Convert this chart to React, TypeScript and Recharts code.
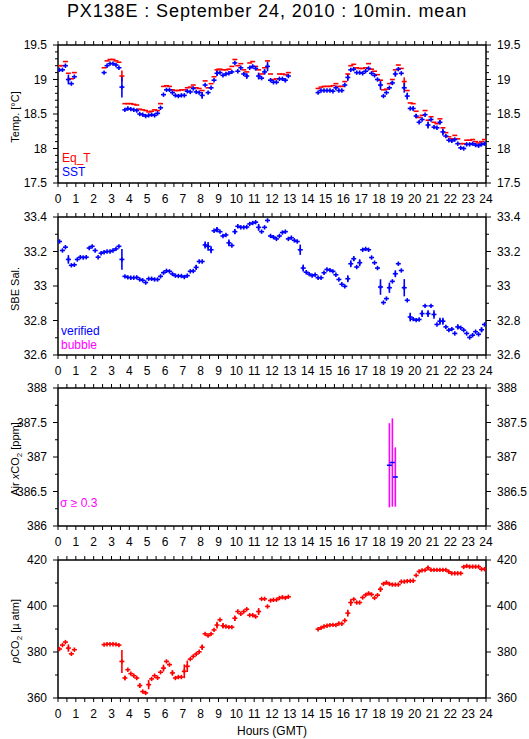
import React from 'react';
import { ScatterChart, Scatter, XAxis, YAxis, ErrorBar } from 'recharts';

const FONT = '"Liberation Sans", Arial, Helvetica, sans-serif';
const RED = '#ff0000';
const BLUE = '#0000ff';
const MAG = '#ff00ff';
const N = null;

// ---- x axis (hours GMT) ----
const hourLabels = [0, 1, 2, 3, 4, 5, 6, 7, 8, 9, 10, 11, 12, 13, 14, 15, 16, 17, 18, 19, 20, 21, 22, 23, 24];
const hourTicks = hourLabels.flatMap((h) => (h < 24 ? [h, h + 0.5] : [h]));

// ---- y ticks ----
const tempTicks = [17.5, 17.6, 17.7, 17.8, 17.9, 18, 18.1, 18.2, 18.3, 18.4, 18.5, 18.6, 18.7, 18.8, 18.9, 19, 19.1, 19.2, 19.3, 19.4, 19.5];
const tempLabels = [17.5, 18, 18.5, 19, 19.5];
const salTicks = [32.6, 32.7, 32.8, 32.9, 33, 33.1, 33.2, 33.3, 33.4];
const salLabels = [32.6, 32.8, 33, 33.2, 33.4];
const airTicks = [386, 386.25, 386.5, 386.75, 387, 387.25, 387.5, 387.75, 388];
const airLabels = [386, 386.5, 387, 387.5, 388];
const pco2Ticks = [360, 370, 380, 390, 400, 410, 420];
const pco2Labels = [360, 380, 400, 420];

// ---- 10-min mean values, one entry per 10-min slot (144 per day) ----
const eqT: (number | null)[] = [
  19.2, 19.2, 19.26, 19.09, 19.01, 19.1, N, N, N, N, N, N,
  N, N, N, 19.17, 19.27, 19.29, 19.29, 19.27, 19.25, 19.05, 18.65, 18.65,
  18.65, 18.64, 18.63, 18.57, 18.56, 18.55, 18.53, 18.54, 18.56, 18.55, 18.65, 18.9,
  18.91, 18.9, 18.85, 18.84, 18.84, 18.85, 18.85, 18.88, 18.89, 18.92, 18.88, 18.87,
  18.84, 18.98, 18.88, 18.94, 19.04, 19.14, 19.15, 19.14, 19.14, 19.15, 19.19, 19.29,
  19.2, 19.23, 19.14, 19.11, 19.24, 19.26, 19.19, 19.14, 19.08, 19.17, 19.27, 19.08,
  19.0, 19.01, 19.08, 19.08, 19.07, 19.1, N, N, N, N, N, N,
  N, N, N, 18.87, 18.89, 18.9, 18.9, 18.9, 18.91, 18.94, 18.9, 18.9,
  18.97, 19.08, 19.2, 19.22, 19.17, 19.16, 19.16, 19.17, 19.23, 19.15, 19.12, 19.07,
  18.99, 18.85, 18.86, 18.94, 19.0, 19.14, 19.21, 19.16, 18.97, 18.84, 18.66, 18.65,
  18.54, 18.45, 18.48, 18.55, 18.41, 18.46, 18.38, 18.36, 18.43, 18.3, 18.23, 18.17,
  18.14, 18.19, 18.14, 18.07, 18.07, 18.12, 18.12, 18.13, 18.1, 18.08, 18.1, 18.13,
];
const eqTSd: Record<number, number> = { 21: 0.08, 53: 0.02, 116: 0.06 };

const sst: (number | null)[] = [
  19.14, 19.14, 19.2, 19.0, 18.94, 19.04, N, N, N, N, N, N,
  N, N, N, 19.1, 19.2, 19.23, 19.23, 19.21, 19.17, 18.89, 18.56, 18.58,
  18.57, 18.56, 18.55, 18.5, 18.49, 18.47, 18.48, 18.49, 18.48, 18.51, 18.59, 18.78,
  18.85, 18.85, 18.81, 18.77, 18.76, 18.77, 18.77, 18.83, 18.82, 18.87, 18.82, 18.81,
  18.77, 18.92, 18.81, 18.88, 18.99, 19.09, 19.1, 19.06, 19.08, 19.09, 19.11, 19.24,
  19.12, 19.17, 19.08, 19.05, 19.17, 19.19, 19.16, 19.05, 19.02, 19.11, 19.19, 18.99,
  18.96, 18.96, 19.01, 19.01, 18.99, 19.05, N, N, N, N, N, N,
  N, N, N, 18.81, 18.84, 18.84, 18.84, 18.84, 18.83, 18.88, 18.84, 18.84,
  18.92, 19.03, 19.14, 19.15, 19.1, 19.1, 19.09, 19.12, 19.16, 19.09, 19.06, 19.0,
  18.92, 18.76, 18.81, 18.88, 18.95, 19.08, 19.15, 19.09, 18.88, 18.76, 18.58, 18.58,
  18.47, 18.38, 18.42, 18.49, 18.34, 18.42, 18.31, 18.3, 18.38, 18.24, 18.18, 18.12,
  18.11, 18.13, 18.07, 18.01, 18.0, 18.06, 18.06, 18.07, 18.05, 18.04, 18.06, 18.07,
];
const sstSd: Record<number, number> = {
  3: 0.07, 21: 0.15, 48: 0.05, 53: 0.04, 63: 0.04, 67: 0.05, 69: 0.04, 70: 0.07, 76: 0.03,
  97: 0.05, 108: 0.07, 112: 0.03, 113: 0.04, 116: 0.07, 117: 0.05, 119: 0.03, 120: 0.03,
  124: 0.05, 128: 0.03, 129: 0.05,
};

const salinity: (number | null)[] = [
  33.258, 33.206, 33.225, 33.154, 33.12, 33.123, 33.154, 33.167, 33.165, 33.167, 33.22, 33.23,
  33.206, 33.167, 33.19, 33.196, 33.2, 33.2, 33.206, 33.215, 33.23, 33.154, 33.056, 33.05,
  33.048, 33.048, 33.05, 33.038, 33.033, 33.02, 33.042, 33.042, 33.038, 33.038, 33.056, 33.077,
  33.088, 33.085, 33.07, 33.06, 33.058, 33.058, 33.052, 33.06, 33.085, 33.087, 33.108, 33.142,
  33.142, 33.238, 33.23, 33.21, 33.32, 33.327, 33.315, 33.29, 33.296, 33.25, 33.235, 33.315,
  33.346, 33.34, 33.34, 33.342, 33.36, 33.365, 33.37, 33.34, 33.315, 33.34, 33.38, 33.29,
  33.283, 33.273, 33.29, 33.31, 33.315, 33.273, 33.28, 33.265, 33.258, 33.21, 33.104, 33.08,
  33.069, 33.06, 33.065, 33.048, 33.048, 33.077, 33.096, 33.092, 33.085, 33.065, 33.038, 33.01,
  32.998, 33.042, 33.129, 33.158, 33.11, 33.135, 33.21, 33.215, 33.21, 33.165, 33.135, 33.104,
  32.994, 32.904, 32.927, 32.99, 33.027, 33.071, 33.129, 33.09, 32.99, 32.917, 32.82, 32.808,
  32.802, 32.806, 32.84, 32.885, 32.84, 32.885, 32.835, 32.777, 32.796, 32.796, 32.763, 32.744,
  32.75, 32.725, 32.763, 32.758, 32.744, 32.725, 32.702, 32.715, 32.735, 32.72, 32.746, 32.777,
];
const salSd: Record<number, number> = {
  3: 0.025, 21: 0.06, 46: 0.015, 49: 0.02, 50: 0.025, 51: 0.02, 53: 0.015, 57: 0.02, 59: 0.015,
  67: 0.02, 81: 0.03, 82: 0.02, 97: 0.02, 98: 0.02, 99: 0.015, 101: 0.02, 108: 0.045, 111: 0.03,
  113: 0.02, 116: 0.05, 118: 0.025, 122: 0.02, 124: 0.02, 126: 0.025, 128: 0.02, 129: 0.02,
  134: 0.015, 142: 0.015,
};

const airSlots = [111, 112, 113];
const airXco2 = [386.88, 386.92, 386.71];
const airSigma = [0.61, 0.64, 0.43];

const pco2: (number | null)[] = [
  381.3, 383.0, 384.3, 381.7, 379.2, 381.0, N, N, N, N, N, N,
  N, N, N, 383.2, 383.4, 383.4, 383.4, 383.3, 383.0, 375.9, 368.7, 372.3,
  370.6, 369.7, 368.7, 365.4, 362.8, 362.2, 365.8, 368.3, 369.7, 368.8, 371.2, 373.0,
  375.9, 374.5, 370.9, 368.7, 369.1, 369.1, 371.6, 373.8, 376.9, 378.1, 379.1, 380.1,
  382.1, 387.9, 387.1, 387.9, 389.6, 391.7, 394.0, 391.4, 391.1, 390.8, 390.8, 394.7,
  397.6, 396.6, 397.6, 398.6, 396.0, 396.0, 395.4, 397.6, 403.1, 403.1, 399.8, 402.4,
  402.7, 402.7, 403.5, 403.8, 403.5, 404.0, N, N, N, N, N, N,
  N, N, N, 389.9, 390.5, 391.1, 391.4, 391.7, 391.8, 391.7, 392.4, 392.3,
  393.7, 396.9, 401.5, 402.9, 401.5, 401.5, 403.7, 404.8, 405.5, 405.0, 403.5, 404.7,
  407.3, 409.6, 410.2, 409.6, 409.3, 409.3, 409.3, 410.6, 410.6, 410.8, 410.9, 411.0,
  413.3, 415.0, 415.5, 415.6, 416.6, 415.7, 415.7, 415.7, 415.7, 415.7, 415.7, 414.9,
  414.2, 414.2, 414.2, 414.2, 417.0, 417.4, 417.1, 417.1, 417.1, 417.1, 416.0, 416.0,
];
const pco2Sd: Record<number, number> = {
  3: 1.6, 21: 5, 22: 1, 27: 1, 30: 2, 35: 1.5, 38: 1.2, 42: 3, 43: 2.5, 48: 1.2, 53: 1.5,
  55: 1.2, 59: 1.2, 67: 1.5, 97: 1.5, 98: 1.5, 108: 1.2, 124: 0.8,
};

// ---- helpers ----
type Pt = { x: number; y: number; e: number };
const slotTime = (k: number) => k / 6 + 1 / 12;
function build(values: (number | null)[], sd: Record<number, number> = {}): Pt[] {
  const out: Pt[] = [];
  values.forEach((v, k) => {
    if (v !== null) out.push({ x: slotTime(k), y: v, e: sd[k] ?? 0 });
  });
  return out;
}

const eqTData = build(eqT, eqTSd);
const sstData = build(sst, sstSd);
const salData = build(salinity, salSd);
const airData: Pt[] = airSlots.map((k, i) => ({ x: slotTime(k), y: airXco2[i], e: airSigma[i] }));
const pco2Data = build(pco2, pco2Sd);

const isIn = (v: number, arr: number[]) => arr.some((a) => Math.abs(a - v) < 1e-6);

const markShape = (color: string, cross: boolean) => (props: any) => {
  const { cx, cy } = props;
  if (cx == null || cy == null || isNaN(cx) || isNaN(cy)) return <g />;
  return (
    <g>
      <line x1={cx - 2.5} x2={cx + 2.5} y1={cy} y2={cy} stroke={color} strokeWidth={1.6} />
      {cross && <line x1={cx} x2={cx} y1={cy - 2.2} y2={cy + 2.2} stroke={color} strokeWidth={1.6} />}
    </g>
  );
};

const XTick = (props: any) => {
  const { x, y, payload, side } = props;
  const v = payload.value as number;
  const dir = side === 'top' ? -1 : 1;
  const major = Math.abs(v - Math.round(v)) < 1e-6;
  return (
    <g>
      <line x1={x} x2={x} y1={y} y2={y + dir * 4} stroke="#000" strokeWidth={1} />
      {side === 'bottom' && major && (
        <text x={x} y={y + 20} textAnchor="middle" fontSize={12} fontFamily={FONT} fill="#000">
          {v}
        </text>
      )}
    </g>
  );
};

const YTick = (props: any) => {
  const { x, y, payload, side, labels } = props;
  const v = payload.value as number;
  const major = isIn(v, labels);
  const dir = side === 'left' ? -1 : 1;
  const len = major ? 5 : 3;
  return (
    <g>
      <line x1={x} x2={x + dir * len} y1={y} y2={y} stroke="#000" strokeWidth={1} />
      {major && (
        <text
          x={x + dir * 11}
          y={y + 4.3}
          textAnchor={side === 'left' ? 'end' : 'start'}
          fontSize={12}
          fontFamily={FONT}
          fill="#000"
        >
          {String(v)}
        </text>
      )}
    </g>
  );
};

const axisLine = { stroke: '#000', strokeWidth: 1.5 };

function Panel(props: {
  top: number;
  domain: [number, number];
  ticks: number[];
  labels: number[];
  bottomHeight?: number;
  children: React.ReactNode;
}) {
  const { top, domain, ticks, labels, children } = props;
  const bottomHeight = props.bottomHeight ?? 30;
  return (
    <div style={{ position: 'absolute', left: 0, top }}>
      <ScatterChart width={529} height={15 + 138 + bottomHeight} margin={{ top: 0, right: 0, bottom: 0, left: 0 }}>
        <XAxis
          xAxisId="t"
          orientation="top"
          type="number"
          dataKey="x"
          domain={[0, 24]}
          allowDataOverflow
          ticks={hourTicks}
          interval={0}
          height={15}
          tickSize={0}
          tickMargin={0}
          tickLine={false}
          axisLine={axisLine}
          tick={(p: any) => <XTick {...p} side="top" />}
        />
        <XAxis
          xAxisId="b"
          orientation="bottom"
          type="number"
          dataKey="x"
          domain={[0, 24]}
          allowDataOverflow
          ticks={hourTicks}
          interval={0}
          height={bottomHeight}
          tickSize={0}
          tickMargin={0}
          tickLine={false}
          axisLine={axisLine}
          tick={(p: any) => <XTick {...p} side="bottom" />}
        />
        <YAxis
          yAxisId="l"
          orientation="left"
          type="number"
          dataKey="y"
          domain={domain}
          allowDataOverflow
          ticks={ticks}
          interval={0}
          width={58}
          tickSize={0}
          tickMargin={0}
          tickLine={false}
          axisLine={axisLine}
          tick={(p: any) => <YTick {...p} side="left" labels={labels} />}
        />
        <YAxis
          yAxisId="r"
          orientation="right"
          type="number"
          dataKey="y"
          domain={domain}
          allowDataOverflow
          ticks={ticks}
          interval={0}
          width={43}
          tickSize={0}
          tickMargin={0}
          tickLine={false}
          axisLine={axisLine}
          tick={(p: any) => <YTick {...p} side="right" labels={labels} />}
        />
        {children}
      </ScatterChart>
    </div>
  );
}

const txt = { fontFamily: FONT, fontSize: 12 } as const;

export default function App() {
  return (
    <div style={{ position: 'absolute', left: 0, top: 0, width: 529, height: 739, background: '#fff', overflow: 'hidden' }}>
      <Panel top={30} domain={[17.5, 19.5]} ticks={tempTicks} labels={tempLabels}>
        {[
          <Scatter key="eq" data={eqTData} xAxisId="b" yAxisId="l" isAnimationActive={false} shape={markShape(RED, false)}>
            <ErrorBar dataKey="e" direction="y" width={0} stroke={RED} strokeWidth={1.6} />
          </Scatter>,
          <Scatter key="sst" data={sstData} xAxisId="b" yAxisId="l" isAnimationActive={false} shape={markShape(BLUE, true)}>
            <ErrorBar dataKey="e" direction="y" width={0} stroke={BLUE} strokeWidth={1.6} />
          </Scatter>,
        ]}
      </Panel>
      <Panel top={202} domain={[32.6, 33.4]} ticks={salTicks} labels={salLabels}>
        {[
          <Scatter key="sal" data={salData} xAxisId="b" yAxisId="l" isAnimationActive={false} shape={markShape(BLUE, true)}>
            <ErrorBar dataKey="e" direction="y" width={0} stroke={BLUE} strokeWidth={1.6} />
          </Scatter>,
        ]}
      </Panel>
      <Panel top={373} domain={[386, 388]} ticks={airTicks} labels={airLabels}>
        {[
          <Scatter key="air" data={airData} xAxisId="b" yAxisId="l" isAnimationActive={false} shape={markShape(BLUE, false)}>
            <ErrorBar dataKey="e" direction="y" width={0} stroke={MAG} strokeWidth={1.6} />
          </Scatter>,
        ]}
      </Panel>
      <Panel top={545} domain={[360, 420]} ticks={pco2Ticks} labels={pco2Labels} bottomHeight={40}>
        {[
          <Scatter key="pco2" data={pco2Data} xAxisId="b" yAxisId="l" isAnimationActive={false} shape={markShape(RED, true)}>
            <ErrorBar dataKey="e" direction="y" width={0} stroke={RED} strokeWidth={1.6} />
          </Scatter>,
        ]}
      </Panel>

      <svg width={529} height={739} style={{ position: 'absolute', left: 0, top: 0, pointerEvents: 'none' }}>
        <text x={267} y={17} textAnchor="middle" fontFamily={FONT} fontSize={18} letterSpacing={0.9} fill="#000">
          PX138E : September 24, 2010 : 10min. mean
        </text>

        <text transform="translate(19,117) rotate(-90)" textAnchor="middle" fontFamily={FONT} fontSize={11} fill="#000">
          Temp. [°C]
        </text>
        <text transform="translate(19,289) rotate(-90)" textAnchor="middle" fontFamily={FONT} fontSize={11} fill="#000">
          SBE Sal.
        </text>
        <text transform="translate(19,459) rotate(-90)" textAnchor="middle" fontFamily={FONT} fontSize={11} fill="#000">
          Air <tspan fontStyle="italic">x</tspan>CO<tspan fontSize={8} dy={3}>2</tspan>
          <tspan dy={-3}> [ppm]</tspan>
        </text>
        <text transform="translate(19,631) rotate(-90)" textAnchor="middle" fontFamily={FONT} fontSize={11} fill="#000">
          <tspan fontStyle="italic">p</tspan>CO<tspan fontSize={8} dy={3}>2</tspan>
          <tspan dy={-3}> [µ atm]</tspan>
        </text>

        <text x={62} y={162} {...txt} fill={RED}>Eq_T</text>
        <text x={62} y={176} {...txt} fill={BLUE}>SST</text>
        <text x={61} y={335} {...txt} fill={BLUE}>verified</text>
        <text x={61} y={349} {...txt} fill={MAG}>bubble</text>
        <text x={60} y={507} {...txt} fill={MAG}>σ ≥ 0.3</text>

        <text x={272} y={735} textAnchor="middle" {...txt} fill="#000">Hours (GMT)</text>
      </svg>
    </div>
  );
}
